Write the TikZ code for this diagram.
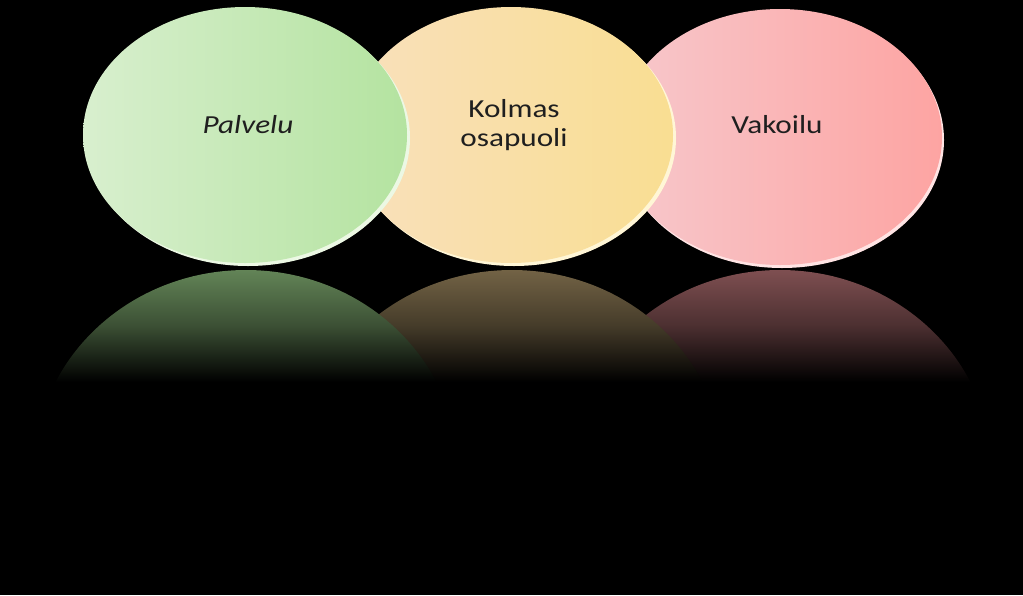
\documentclass[tikz,border=0pt]{standalone}
\usepackage{fontspec}
\setmainfont{Carlito}[FakeStretch=1.2]
\usepackage{tikz}
\usetikzlibrary{shapes.geometric}
\definecolor{greenL}{RGB}{216,239,206}
\definecolor{greenR}{RGB}{180,227,160}
\definecolor{greenrim}{RGB}{236,248,228}
\definecolor{orangeL}{RGB}{249,224,188}
\definecolor{orangeR}{RGB}{249,222,146}
\definecolor{orangerim}{RGB}{255,246,214}
\definecolor{pinkL}{RGB}{247,200,204}
\definecolor{pinkR}{RGB}{253,164,162}
\definecolor{pinkrim}{RGB}{255,228,228}
\definecolor{reflgreen}{RGB}{100,134,88}
\definecolor{reflorange}{RGB}{116,100,70}
\definecolor{reflpink}{RGB}{128,80,82}

\begin{document}
\begin{tikzpicture}[x=1pt, y=1pt,
  disc/.style={ellipse, minimum width=324pt, minimum height=256pt, inner sep=0pt},
  word/.style={align=center, text=black!88, font=\fontsize{26}{29}\selectfont}]
% Background
\useasboundingbox (0,0) rectangle (1023,-595);
\fill[black] (0,0) rectangle (1023,-595);

% Reflections, fading out
\foreach \cx/\col in {780/reflpink, 512/reflorange, 246/reflgreen}{
  \begin{scope}
    \clip (\cx,-470) ellipse [x radius=212, y radius=200];
    \shade[top color=\col, bottom color=black, middle color=\col!60!black]
      (\cx-215,-268) rectangle (\cx+215,-382);
  \end{scope}
}

% Discs (pink under orange under green)
\fill[pinkrim] (782,-140) ellipse [x radius=162, y radius=128];
\node[disc, left color=pinkL, right color=pinkR] (vakoilu) at (780,-137) {};
\fill[orangerim] (514,-138) ellipse [x radius=162, y radius=128];
\node[disc, left color=orangeL, right color=orangeR] (kolmas) at (511,-135) {};
\fill[greenrim] (248,-138) ellipse [x radius=162, y radius=128];
\node[disc, left color=greenL, right color=greenR] (palvelu) at (245,-135) {};

% Labels
\node[word] at ([xshift=3pt, yshift=10pt]palvelu.center) {\itshape Palvelu};
\node[word] at ([xshift=3pt, yshift=10pt]kolmas.center) {Kolmas\\osapuoli};
\node[word] at ([xshift=-3pt, yshift=12pt]vakoilu.center) {Vakoilu};
\end{tikzpicture}
\end{document}
